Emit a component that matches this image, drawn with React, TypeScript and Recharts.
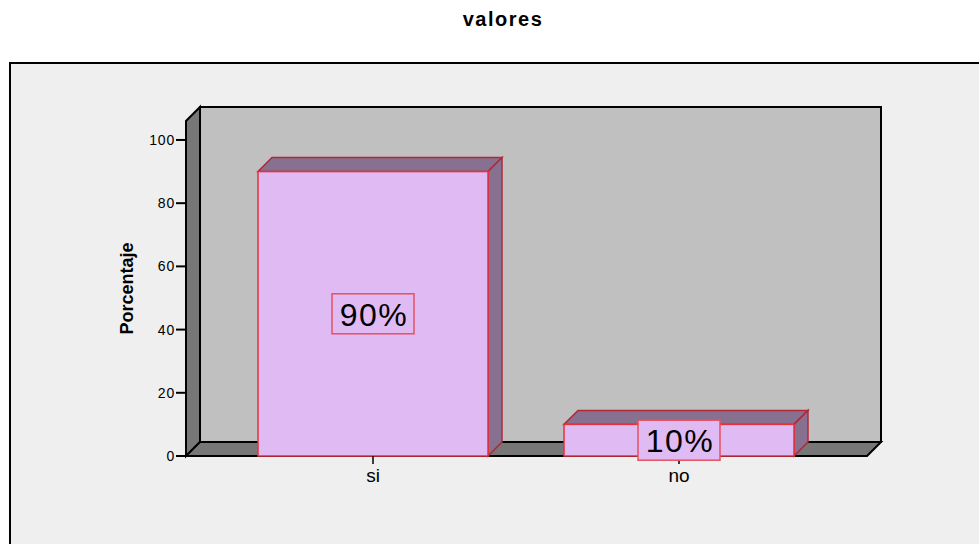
import { BarChart, Bar, XAxis, YAxis, ReferenceArea, LabelList } from 'recharts';

const categories = ['si', 'no'];
const percentages = [90, 10];
const yTicks = [0, 20, 40, 60, 80, 100];

const data = categories.map((name, i) => ({ name, value: percentages[i] }));

const W = 979;
const H = 544;
const DEPTH = 14;
const MARGIN = { top: 121, right: 112, bottom: 58, left: 126 };
const Y_AXIS_W = 60;
const PLOT_LEFT = MARGIN.left + Y_AXIS_W;
const PLOT_RIGHT = W - MARGIN.right;
const FONT = '"Liberation Sans", Arial, Helvetica, sans-serif';

// 3D box: back wall, left wall and floor
function Frame(props: any) {
  const top = props.y;
  const bottom = props.y + props.height;
  const l = PLOT_LEFT;
  const r = PLOT_RIGHT;
  const d = DEPTH;
  return (
    <g stroke="#000" strokeWidth={2} strokeLinejoin="miter">
      <rect x={l + d} y={top - d} width={r - l} height={bottom - top} fill="#c0c0c0" />
      <polygon
        points={`${l},${bottom} ${l},${top} ${l + d},${top - d} ${l + d},${bottom - d}`}
        fill="#777777"
      />
      <polygon
        points={`${l},${bottom} ${l + d},${bottom - d} ${r + d},${bottom - d} ${r},${bottom}`}
        fill="#777777"
      />
    </g>
  );
}

function Bar3D(props: any) {
  const { x, y, width, height } = props;
  const d = DEPTH;
  return (
    <g>
      <polygon
        points={`${x},${y} ${x + d},${y - d} ${x + width + d},${y - d} ${x + width},${y}`}
        fill="#887090"
        stroke="#b02838"
        strokeWidth={1.5}
      />
      <polygon
        points={`${x + width},${y} ${x + width + d},${y - d} ${x + width + d},${y + height - d} ${x + width},${y + height}`}
        fill="#887090"
        stroke="#b02838"
        strokeWidth={1.5}
      />
      <rect x={x} y={y} width={width} height={height} fill="#dfbaf3" stroke="#e8323c" strokeWidth={1.5} />
    </g>
  );
}

function PctLabel(props: any) {
  const { x, y, width, height, value } = props;
  const cx = x + width / 2;
  const cy = y + height / 2;
  return (
    <g>
      <rect x={cx - 41} y={cy - 20} width={82} height={40} fill="#dfbaf3" stroke="#e85060" strokeWidth={1.5} />
      <text
        x={cx + 1}
        y={cy + 1}
        textAnchor="middle"
        dominantBaseline="central"
        fontSize={32}
        letterSpacing={1.5}
        fontFamily={FONT}
        fill="#000"
      >
        {`${value}%`}
      </text>
    </g>
  );
}

function AxisTitle(props: any) {
  const vb = props.viewBox || { x: MARGIN.left, y: MARGIN.top, height: H - MARGIN.top - MARGIN.bottom - 30 };
  const cx = vb.x + 1;
  const cy = vb.y + vb.height / 2;
  return (
    <text
      x={cx}
      y={cy}
      transform={`rotate(-90, ${cx}, ${cy})`}
      textAnchor="middle"
      dominantBaseline="central"
      fontSize={18}
      fontWeight="bold"
      fontFamily={FONT}
      fill="#000"
    >
      Porcentaje
    </text>
  );
}

export default function App() {
  return (
    <div style={{ position: 'absolute', left: 0, top: 0, width: W, height: H, overflow: 'hidden', background: '#fff', fontFamily: FONT }}>
      <div
        style={{
          position: 'absolute',
          left: 0,
          width: 1006,
          top: 8,
          textAlign: 'center',
          fontSize: 20,
          lineHeight: '22px',
          fontWeight: 'bold',
          letterSpacing: 1.5,
          color: '#000',
        }}
      >
        valores
      </div>
      <div
        style={{
          position: 'absolute',
          left: 9,
          top: 62,
          width: 1000,
          height: 520,
          borderTop: '2px solid #000',
          borderLeft: '2px solid #000',
          background: '#efefef',
        }}
      />
      <div style={{ position: 'absolute', left: 0, top: 0 }}>
        <BarChart width={W} height={H} data={data} margin={MARGIN}>
          <ReferenceArea y1={0} y2={106} shape={<Frame />} zIndex={-50} ifOverflow="visible" />
          <XAxis
            dataKey="name"
            padding={{ left: 34, right: 35 }}
            axisLine={false}
            tickSize={8}
            tickMargin={5}
            height={30}
            tickLine={{ stroke: '#000', strokeWidth: 1.5 }}
            tick={{ fill: '#000', fontSize: 19, fontFamily: FONT }}
          />
          <YAxis
            type="number"
            domain={[0, 106]}
            ticks={yTicks}
            width={Y_AXIS_W}
            axisLine={false}
            tickSize={10}
            tickMargin={1}
            tickLine={{ stroke: '#000', strokeWidth: 2 }}
            tick={{ fill: '#000', fontSize: 14, letterSpacing: 0.8, fontFamily: FONT }}
            label={{ content: <AxisTitle /> }}
          />
          <Bar dataKey="value" barSize={230} shape={<Bar3D />} isAnimationActive={false}>
            <LabelList dataKey="value" content={<PctLabel />} />
          </Bar>
        </BarChart>
      </div>
    </div>
  );
}
